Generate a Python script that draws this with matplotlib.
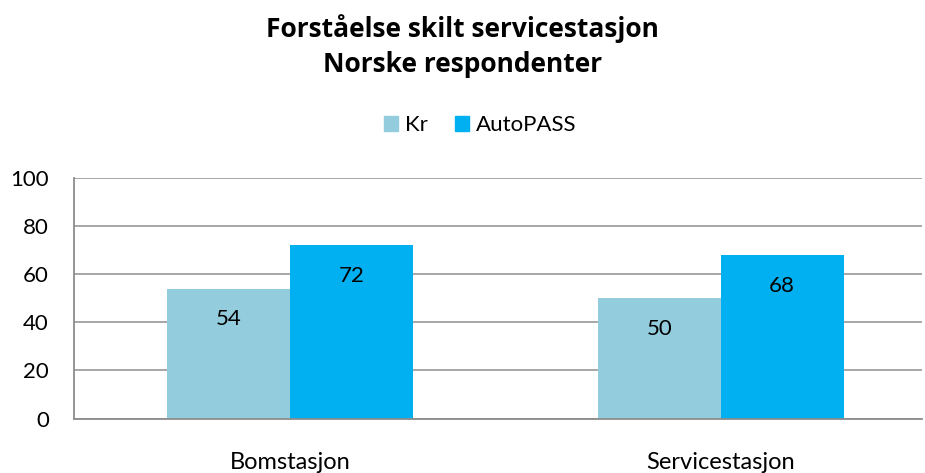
import matplotlib
matplotlib.use("Agg")
import matplotlib.pyplot as plt
from matplotlib.patches import Patch
import numpy as np

categories = ["Bomstasjon", "Servicestasjon"]
series_names = ["Kr", "AutoPASS"]
kr_values = [54, 50]
autopass_values = [72, 68]
y_ticks = [0, 20, 40, 60, 80, 100]
title_lines = ["Forståelse skilt servicestasjon", "Norske respondenter"]

colors = ["#93CDDD", "#00B0F0"]
plt.rcParams['font.family'] = ['Lato', 'DejaVu Sans']

W, H = 925, 473
fig = plt.figure(figsize=(W/100, H/100), dpi=100)
left, right, top, bottom = 74, 922, 178, 418.5
ax = fig.add_axes([left/W, 1-bottom/H, (right-left)/W, (bottom-top)/H])

x = np.arange(len(categories))
bw = 0.285
series = [kr_values, autopass_values]
for i, (vals, c, name) in enumerate(zip(series, colors, series_names)):
    pos = x + (i - 0.5) * bw
    bars = ax.bar(pos, vals, width=bw, color=c, label=name, zorder=3)
    for b, v in zip(bars, vals):
        ax.annotate(f"{v}", (b.get_x() + b.get_width()/2, v), xytext=(0, -22),
                    textcoords="offset points", ha="center", va="center",
                    fontsize=16, color="black", zorder=4)

ax.set_xlim(-0.501, 1.467)
ax.set_ylim(0, 100)
ax.set_yticks(y_ticks)
ax.set_yticklabels([str(t) for t in y_ticks], fontsize=16)
ax.set_xticks(x)
ax.set_xticklabels(categories, fontsize=17)
ax.tick_params(axis='both', length=0)
ax.tick_params(axis='y', pad=18)
ax.tick_params(axis='x', pad=24)
ax.grid(axis='y', color='#A0A0A0', linewidth=1.3, zorder=0)
for s in ['top', 'right']:
    ax.spines[s].set_visible(False)
for s in ['left', 'bottom']:
    ax.spines[s].set_color('#8C8C8C')
    ax.spines[s].set_linewidth(1.3)
    ax.spines[s].set_zorder(5)

tfam = ['Open Sans', 'DejaVu Sans']
fig.text(0.5, 1-29/H, title_lines[0], ha='center', va='center', fontsize=19,
         fontweight='bold', family=tfam)
fig.text(0.5, 1-64/H, title_lines[1], ha='center', va='center', fontsize=19,
         fontweight='bold', family=tfam)

handles = [Patch(color=c, label=n) for c, n in zip(colors, series_names)]
fig.legend(handles=handles, loc='center', bbox_to_anchor=(480/W, 1-125/H), ncol=2,
           frameon=False, fontsize=16, handlelength=0.65, handleheight=0.65,
           handletextpad=0.3, columnspacing=1.2)

fig.savefig("out.png", dpi=100)
